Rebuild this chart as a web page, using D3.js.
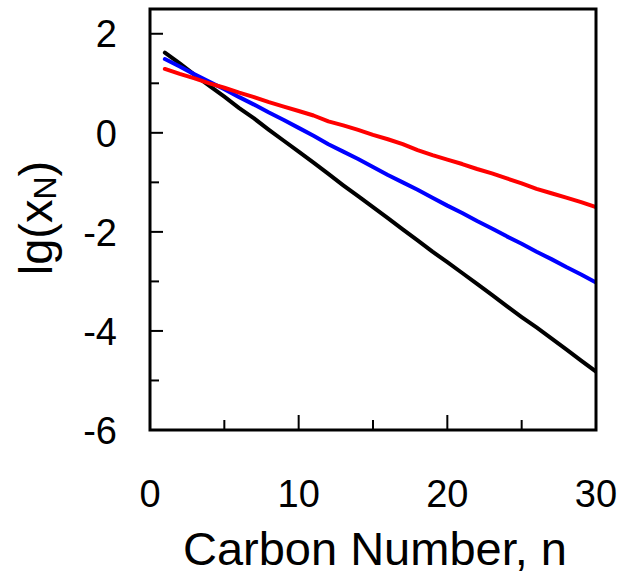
<!DOCTYPE html>
<html>
<head>
<meta charset="utf-8">
<script src="https://cdn.jsdelivr.net/npm/d3@7"></script>
<style>
  html, body { margin: 0; padding: 0; background: #fff; }
  svg { display: block; font-family: "Liberation Sans", Arial, sans-serif; }
</style>
</head>
<body>
<svg id="chart" width="618" height="577"></svg>
<script>
// Carbon number n
const carbonNumbers = [1,2,3,4,5,6,7,8,9,10,11,12,13,14,15,16,17,18,19,20,21,22,23,24,25,26,27,28,29,30];

// lg(x_N) for the three distributions
const seriesBlack = [1.62,1.40,1.17,0.95,0.73,0.50,0.29,0.06,-0.16,-0.38,-0.60,-0.83,-1.06,-1.28,-1.50,-1.72,-1.95,-2.17,-2.40,-2.61,-2.83,-3.05,-3.27,-3.50,-3.72,-3.93,-4.15,-4.37,-4.60,-4.82];
const seriesBlue  = [1.49,1.34,1.18,1.03,0.88,0.72,0.57,0.41,0.26,0.10,-0.06,-0.23,-0.38,-0.53,-0.69,-0.85,-1.00,-1.15,-1.31,-1.47,-1.62,-1.78,-1.93,-2.09,-2.24,-2.40,-2.55,-2.71,-2.86,-3.02];
const seriesRed   = [1.29,1.19,1.10,1.00,0.91,0.81,0.72,0.62,0.53,0.44,0.35,0.23,0.15,0.06,-0.04,-0.13,-0.23,-0.35,-0.45,-0.54,-0.63,-0.73,-0.82,-0.92,-1.02,-1.13,-1.22,-1.31,-1.40,-1.50];

const xTickValues = [0,5,10,15,20,25,30];
const xTickLabels = ["0","","10","","20","","30"];
const yTickValues = [-6,-5,-4,-3,-2,-1,0,1,2];
const yTickLabels = ["-6","","-4","","-2","","0","","2"];

const seriesList = [
  { values: seriesBlack, color: "#000000" },
  { values: seriesBlue,  color: "#0000ff" },
  { values: seriesRed,   color: "#ff0000" }
];

const svg = d3.select("#chart");
const plotLeft = 150, plotRight = 596, plotTop = 9, plotBottom = 430;

const x = d3.scaleLinear().domain([0, 30]).range([plotLeft, plotRight]);
const y = d3.scaleLinear().domain([-6, 2.5]).range([plotBottom, plotTop]);

// data lines (clipped to the plotting box)
svg.append("clipPath").attr("id", "plotClip")
  .append("rect").attr("x", plotLeft).attr("y", plotTop)
  .attr("width", plotRight - plotLeft).attr("height", plotBottom - plotTop);

const line = d3.line().x((d, i) => x(carbonNumbers[i])).y(d => y(d));
svg.append("g").attr("clip-path", "url(#plotClip)")
  .selectAll("path").data(seriesList).join("path")
  .attr("d", s => line(s.values))
  .attr("fill", "none")
  .attr("stroke", s => s.color)
  .attr("stroke-width", 4)
  .attr("stroke-linejoin", "round")
  .attr("stroke-linecap", "round");

// inward ticks, longer on labelled values
svg.append("g").selectAll("line").data(yTickValues).join("line")
  .attr("x1", plotLeft).attr("x2", (d, i) => plotLeft + (yTickLabels[i] ? 13 : 9))
  .attr("y1", d => y(d)).attr("y2", d => y(d))
  .attr("stroke", "#000").attr("stroke-width", 2);

svg.append("g").selectAll("line").data(xTickValues).join("line")
  .attr("x1", d => x(d)).attr("x2", d => x(d))
  .attr("y1", plotBottom).attr("y2", (d, i) => plotBottom - (xTickLabels[i] ? 15 : 10))
  .attr("stroke", "#000").attr("stroke-width", 2);

// frame
svg.append("rect")
  .attr("x", plotLeft).attr("y", plotTop)
  .attr("width", plotRight - plotLeft).attr("height", plotBottom - plotTop)
  .attr("fill", "none").attr("stroke", "#000").attr("stroke-width", 3);

// tick labels
svg.append("g").selectAll("text").data(yTickValues).join("text")
  .attr("x", 117).attr("y", d => y(d)).attr("dy", "0.36em")
  .attr("text-anchor", "end").attr("font-size", 38)
  .text((d, i) => yTickLabels[i]);

svg.append("g").selectAll("text").data(xTickValues).join("text")
  .attr("x", d => x(d)).attr("y", 507)
  .attr("text-anchor", "middle").attr("font-size", 38)
  .text((d, i) => xTickLabels[i]);

// axis titles
svg.append("text")
  .attr("x", 375).attr("y", 565)
  .attr("text-anchor", "middle").attr("font-size", 47)
  .text("Carbon Number, n");

const yTitle = svg.append("text")
  .attr("transform", "translate(52,218) rotate(-90)")
  .attr("text-anchor", "middle").attr("font-size", 47);
yTitle.append("tspan").text("lg(x");
yTitle.append("tspan").attr("font-size", 32).attr("dy", 4).text("N");
yTitle.append("tspan").attr("dy", -4).text(")");
</script>
</body>
</html>
